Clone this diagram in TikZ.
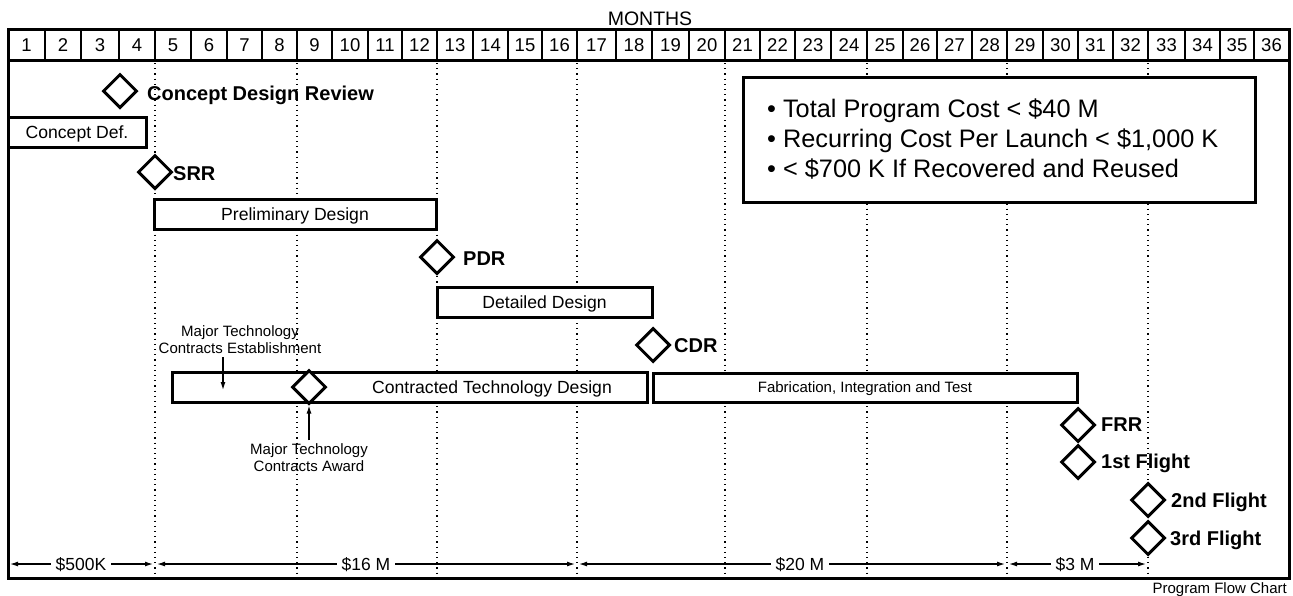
\documentclass[tikz,border=0pt]{standalone}
\usepackage{fontspec}
\setmainfont{Liberation Sans}
\usetikzlibrary{shapes.geometric,arrows.meta}
\begin{document}
\begin{tikzpicture}[x=1pt,y=-1pt,
  frame/.style={line width=3pt},
  cell/.style={draw, line width=1.3pt, inner sep=0pt, minimum height=31pt,
    text height=13.2pt, text depth=0pt, font=\fontsize{18.5}{20}\selectfont},
  grid/.style={line width=1.2pt, dash pattern=on 1.2pt off 4pt},
  bar/.style={draw, fill=white, line width=3pt, inner sep=0pt, minimum height=30pt,
    text height=12.6pt, text depth=0pt, font=\fontsize{17.6}{20}\selectfont},
  bartext/.style={inner sep=0pt, text height=12.6pt, text depth=0pt, font=\fontsize{17.6}{20}\selectfont},
  mile/.style={diamond, draw, fill=white, line width=3pt, minimum width=34pt,
    minimum height=34pt, inner sep=0pt},
  mlab/.style={anchor=base west, inner sep=0pt, font=\bfseries\fontsize{20}{24}\selectfont},
  note/.style={align=center, anchor=north, inner sep=0pt, font=\fontsize{15}{17}\selectfont},
  goal/.style={anchor=base west, inner sep=0pt, font=\fontsize{25.3}{30}\selectfont},
  cost/.style={fill=white, inner xsep=5pt, inner ysep=1pt, text height=12.5pt, text depth=0pt,
    font=\fontsize{17.5}{20}\selectfont},
  arr/.style={line width=1.2pt, -{Latex[length=8pt,width=5pt]}},
  dim/.style={line width=1.2pt, {Latex[length=8pt,width=5pt]}-{Latex[length=8pt,width=5pt]}},
  ]
\useasboundingbox (0,0) rectangle (1293,595);

% dotted quarter lines
\foreach \x in {155,297,437,577,725,867,1007,1148}
  \draw[grid] (\x,63) -- (\x,577);

% month header
\node[anchor=base, inner sep=0pt, font=\fontsize{19.5}{22}\selectfont] (months) at (650,25) {MONTHS};
\foreach \a/\b [count=\i] in {8/45,45/81,81/119,119/155,155/191,191/227,227/262,262/297,
  297/332,332/368,368/402,402/437,437/473,473/508,508/542,542/577,577/616,616/652,
  652/689,689/725,725/760,760/795,795/831,831/867,867/903,903/937,937/972,972/1007,
  1007/1043,1043/1078,1078/1113,1113/1148,1148/1185,1185/1220,1220/1254,1254/1289}
  \node[cell, minimum width={(\b-\a)*1pt}] (m\i) at ({(\a+\b)/2},44.5) {\i};

% frame
\draw[frame] (8,29) rectangle (1289,578);
\draw[frame] (8,60) -- (1289,60);

% bars
\node[bar, minimum width=138pt] (cdef) at (77,132) {Concept Def.};
\node[bar, minimum width=282pt] (prel) at (295,214) {Preliminary Design};
\node[bar, minimum width=215pt] (det) at (544.5,302) {Detailed Design};
\node[bar, minimum width=475pt] (ctd) at (409.5,387) {};
\node[bartext] (ctdt) at (492,387) {Contracted Technology Design};
\node[bar, minimum width=424pt, minimum height=29pt, text height=10.7pt,
  font=\fontsize{15}{18}\selectfont] (fit) at (865,387.5) {Fabrication, Integration and Test};

% goals box
\node[draw, fill=white, line width=3pt, minimum width=512pt, minimum height=125pt] (goals) at (999,139.5) {};
\node[goal] (g1) at (767,117) {• Total Program Cost < \$40 M};
\node[goal] (g2) at (767,147) {• Recurring Cost Per Launch < \$1,000 K};
\node[goal] (g3) at (767,177) {• < \$700 K If Recovered and Reused};

% milestones
\node[mile] (cdrev) at (120,91) {};
\node[mlab] (cdrevl) at (147,100) {Concept Design Review};
\node[mile] (srr) at (155,172) {};
\node[mlab] (srrl) at (173,180) {SRR};
\node[mile] (pdr) at (437,257) {};
\node[mlab] (pdrl) at (463,265) {PDR};
\node[mile] (cdr) at (653,345) {};
\node[mlab] (cdrl) at (674,352) {CDR};
\node[mile] (award) at (309,387) {};
\node[mile] (frr) at (1078,425) {};
\node[mlab] (frrl) at (1101,431) {FRR};
\node[mile] (f1) at (1078,462) {};
\node[mlab] (f1l) at (1101,468) {1st Flight};
\node[mile] (f2) at (1148,500) {};
\node[mlab] (f2l) at (1171,507) {2nd Flight};
\node[mile] (f3) at (1148,538) {};
\node[mlab] (f3l) at (1170,545) {3rd Flight};

% technology contract notes
\node[note] (est) at (240,325.3) {Major Technology\\Contracts Establishment};
\coordinate (estTop) at (223,357);
\coordinate (estTip) at (223,390);
\draw[arr] (estTop) -- (estTip);
\node[note] (awl) at (309,443.3) {Major Technology\\Contracts Award};
\draw[arr, shorten <=3pt] (awl.north) -- (award.south);

% cost spans
\coordinate (k0) at (10,564);
\coordinate (k1) at (153,564);
\coordinate (k2) at (157,564);
\coordinate (k3) at (575,564);
\coordinate (k4) at (579,564);
\coordinate (k5) at (1005,564);
\coordinate (k6) at (1009,564);
\coordinate (k7) at (1146,564);
\draw[dim] (k0) -- (k1);
\draw[dim] (k2) -- (k3);
\draw[dim] (k4) -- (k5);
\draw[dim] (k6) -- (k7);
\node[cost] (c1) at (81,564) {\$500K};
\node[cost] (c2) at (366,564) {\$16 M};
\node[cost] (c3) at (800,564) {\$20 M};
\node[cost] (c4) at (1075,564) {\$3 M};

% caption
\node[anchor=base east, inner sep=0pt, font=\fontsize{15}{18}\selectfont] (cap) at (1287,593) {Program Flow Chart};
\end{tikzpicture}
\end{document}
